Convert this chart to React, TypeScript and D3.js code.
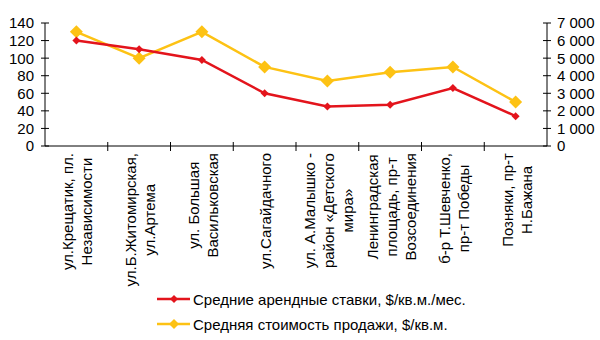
import React, { useEffect, useRef } from "react";
import * as d3 from "d3";

const categories: string[][] = [
  ["ул.Крещатик, пл.", "Независимости"],
  ["ул.Б.Житомирская,", "ул.Артема"],
  ["ул. Большая", "Васильковская"],
  ["ул.Сагайдачного"],
  ["ул. А.Малышко -", "район «Детского", "мира»"],
  ["Ленинградская", "площадь, пр-т", "Возсоединения"],
  ["б-р Т.Шевченко,", "пр-т Победы"],
  ["Позняки, пр-т", "Н.Бажана"],
];
const rentValues = [120, 110, 98, 60, 45, 47, 66, 34];
const saleValues = [6500, 5000, 6500, 4500, 3700, 4200, 4500, 2500];
const leftTicks = [0, 20, 40, 60, 80, 100, 120, 140];
const rightTicks = [0, 1000, 2000, 3000, 4000, 5000, 6000, 7000];
const seriesNames = [
  "Средние арендные ставки, $/кв.м./мес.",
  "Средняя стоимость продажи, $/кв.м.",
];

const RED = "#E3141C";
const YELLOW = "#FDC214";
const FONT = "'Liberation Sans', Arial, sans-serif";

export default function App() {
  const ref = useRef<SVGSVGElement | null>(null);

  useEffect(() => {
    const svg = d3.select(ref.current);
    svg.selectAll("*").remove();

    const left = 45, right = 547, top = 23, bottom = 146;
    const ids = categories.map((_, i) => String(i));
    const x = d3.scaleBand<string>().domain(ids).range([left, right]);
    const yL = d3.scaleLinear().domain([0, 140]).range([bottom, top]);
    const yR = d3.scaleLinear().domain([0, 7000]).range([bottom, top]);
    const cx = (i: number) => (x(String(i)) as number) + x.bandwidth() / 2;

    const g = svg.append("g").attr("font-family", FONT).attr("font-size", 15);

    // Left axis
    g.append("line").attr("x1", left).attr("x2", left).attr("y1", top).attr("y2", bottom).attr("stroke", "#000");
    leftTicks.forEach((t) => {
      g.append("line").attr("x1", left - 4).attr("x2", left + 4).attr("y1", yL(t)).attr("y2", yL(t)).attr("stroke", "#000");
      g.append("text").attr("x", 34).attr("y", yL(t)).attr("dy", "0.36em").attr("text-anchor", "end").text(String(t));
    });
    // Right axis
    const fmt = (v: number) => d3.format(",")(v).replace(/,/g, " ");
    g.append("line").attr("x1", right).attr("x2", right).attr("y1", top).attr("y2", bottom).attr("stroke", "#000");
    rightTicks.forEach((t) => {
      g.append("line").attr("x1", right - 4).attr("x2", right + 4).attr("y1", yR(t)).attr("y2", yR(t)).attr("stroke", "#000");
      g.append("text").attr("x", 557).attr("y", yR(t)).attr("dy", "0.36em").attr("text-anchor", "start").text(fmt(t));
    });
    // X axis
    g.append("line").attr("x1", left).attr("x2", right).attr("y1", bottom).attr("y2", bottom).attr("stroke", "#000");
    ids.forEach((id, i) => {
      const xb = x(id) as number;
      if (i > 0) g.append("line").attr("x1", xb).attr("x2", xb).attr("y1", bottom - 4).attr("y2", bottom + 5).attr("stroke", "#000");
    });

    // Category labels, rotated
    const labelTop = 153;
    const lh = 19;
    categories.forEach((lines, i) => {
      const lg = g.append("g");
      const texts = lines.map((ln, j) =>
        lg.append("text")
          .attr("text-anchor", "middle")
          .attr("y", (j - (lines.length - 1) / 2) * lh)
          .attr("dy", "0.36em")
          .text(ln)
      );
      const maxLen = d3.max(texts, (t) => (t.node() as SVGTextElement).getComputedTextLength()) || 0;
      texts.forEach((t) => t.attr("x", -maxLen / 2));
      lg.attr("transform", `translate(${cx(i) + 1},${labelTop}) rotate(-90)`);
    });

    // Series
    const lineL = d3.line<number>().x((_, i) => cx(i)).y((d) => yL(d));
    const lineR = d3.line<number>().x((_, i) => cx(i)).y((d) => yR(d));
    const diamond = (px: number, py: number, r: number) =>
      `M${px},${py - r}L${px + r},${py}L${px},${py + r}L${px - r},${py}Z`;

    g.append("path").attr("d", lineR(saleValues)).attr("fill", "none").attr("stroke", YELLOW).attr("stroke-width", 2.5);
    saleValues.forEach((v, i) => g.append("path").attr("d", diamond(cx(i), yR(v), 6.5)).attr("fill", YELLOW));
    g.append("path").attr("d", lineL(rentValues)).attr("fill", "none").attr("stroke", RED).attr("stroke-width", 2.5);
    rentValues.forEach((v, i) => g.append("path").attr("d", diamond(cx(i), yL(v), 4)).attr("fill", RED));

    // Legend
    const legendRows = [
      { name: seriesNames[0], color: RED, r: 4, y: 299 },
      { name: seriesNames[1], color: YELLOW, r: 5, y: 324 },
    ];
    legendRows.forEach((row) => {
      g.append("line").attr("x1", 157).attr("x2", 190).attr("y1", row.y).attr("y2", row.y).attr("stroke", row.color).attr("stroke-width", 2.5);
      g.append("path").attr("d", diamond(174, row.y, row.r)).attr("fill", row.color);
      g.append("text").attr("x", 193).attr("y", row.y + 4).attr("dy", "0.1em").text(row.name);
    });
  }, []);

  return (
    <svg
      ref={ref}
      width={600}
      height={340}
      style={{ position: "absolute", left: 0, top: 0, background: "#fff" }}
    />
  );
}
